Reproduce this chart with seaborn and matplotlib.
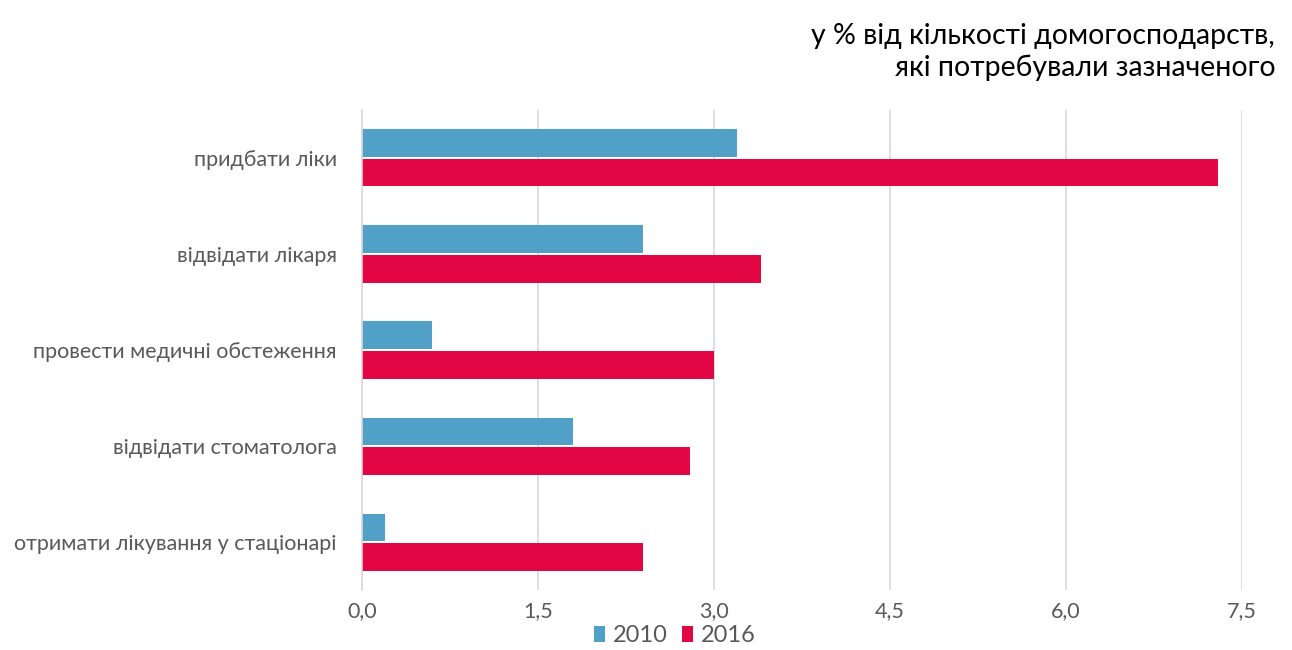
import pandas as pd
import matplotlib
matplotlib.use("Agg")
import matplotlib.pyplot as plt
from matplotlib.patches import Patch
import seaborn as sns

# --- data ---
categories = [
    "придбати ліки",
    "відвідати лікаря",
    "провести медичні обстеження",
    "відвідати стоматолога",
    "отримати лікування у стаціонарі",
]
years = ["2010", "2016"]
values_2010 = [3.2, 2.4, 0.6, 1.8, 0.2]
values_2016 = [7.3, 3.4, 3.0, 2.8, 2.4]
x_ticks = [0, 1.5, 3.0, 4.5, 6.0, 7.5]
x_tick_labels = ["0,0", "1,5", "3,0", "4,5", "6,0", "7,5"]

df = pd.DataFrame({
    "category": categories * 2,
    "year": [years[0]] * len(categories) + [years[1]] * len(categories),
    "value": values_2010 + values_2016,
})

sns.set_theme(style="white")
plt.rcParams["font.family"] = ["Lato", "DejaVu Sans"]

fig = plt.figure(figsize=(12.92, 6.5), dpi=100)
ax = fig.add_axes([0.280, 0.092, 0.681, 0.739])

palette = {"2010": "#50A0C8", "2016": "#E30644"}
sns.barplot(data=df, y="category", x="value", hue="year", order=categories,
            hue_order=years, palette=palette, orient="h", width=0.62, gap=0.08,
            ax=ax, legend=False, saturation=1, linewidth=0)

ax.set_xlim(0, 7.5)
ax.set_xticks(x_ticks)
ax.set_xticklabels(x_tick_labels)
ax.grid(axis="x", color="#D9D9D9", linewidth=1.2)
ax.set_axisbelow(True)
for side in ["top", "right", "bottom"]:
    ax.spines[side].set_visible(False)
ax.spines["left"].set_color("#D9D9D9")
ax.spines["left"].set_linewidth(1.2)
ax.set_xlabel("")
ax.set_ylabel("")
ax.tick_params(axis="both", length=0, colors="#595959", labelsize=15.5)
ax.tick_params(axis="y", pad=18)
ax.tick_params(axis="x", pad=8)

# legend
handles = [Patch(facecolor=palette[y], edgecolor="none") for y in years]
fig.legend(handles, years, loc="center", bbox_to_anchor=(0.522, 0.022),
           ncol=2, frameon=False, fontsize=17, handletextpad=0.3,
           columnspacing=0.6, labelcolor="#595959",
           handlelength=0.5, handleheight=0.7)

fig.text(0.987, 0.965, "у % від кількості домогосподарств,\nякі потребували зазначеного",
         ha="right", va="top", fontsize=20.5, color="#000000", linespacing=1.25)

fig.savefig("out.png", dpi=100)
